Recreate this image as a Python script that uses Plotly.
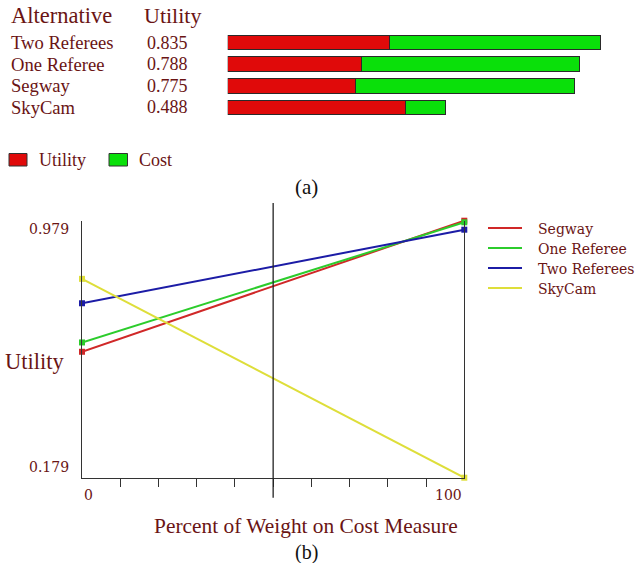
import plotly.graph_objects as go

# ---------------- data ----------------
alternatives = ["Two Referees", "One Referee", "Segway", "SkyCam"]
utility_labels = ["0.835", "0.788", "0.775", "0.488"]
utility_part = [0.361, 0.300, 0.285, 0.398]   # red segment
cost_part = [0.474, 0.488, 0.490, 0.090]      # green segment

weight_pct = [0, 100]
line_names = ["Segway", "One Referee", "Two Referees", "SkyCam"]
segway_vals = [0.571, 0.979]
one_referee_vals = [0.600, 0.974]
two_referees_vals = [0.722, 0.951]
skycam_vals = [0.798, 0.179]
y_tick_vals = [0.179, 0.979]
x_tick_labels = ["0", "100"]
minor_ticks = [10, 20, 30, 40, 50, 60, 70, 80, 90]
current_weight = 50

# ---------------- styles ----------------
W, H = 640, 563
TXT = "#6a1414"
SERIF = "Liberation Serif"
DSERIF = "DejaVu Serif"
BAR_RED = "#e00a0a"
BAR_GREEN = "#0ae00a"
line_colors = ["#d02828", "#2ccc2c", "#1c1ca6", "#dede3a"]
AX = "#333333"


def px_x(p):
    return p / W


def px_y(p):
    return 1 - p / H


fig = go.Figure()

# ---- (a) stacked bars ----
fig.add_trace(go.Bar(y=alternatives, x=utility_part, orientation="h", name="Utility",
                     marker=dict(color=BAR_RED, line=dict(color="#2a2a2a", width=1)),
                     xaxis="x", yaxis="y", showlegend=False, hoverinfo="x+y"))
fig.add_trace(go.Bar(y=alternatives, x=cost_part, orientation="h", name="Cost",
                     marker=dict(color=BAR_GREEN, line=dict(color="#2a2a2a", width=1)),
                     xaxis="x", yaxis="y", showlegend=False, hoverinfo="x+y"))

# ---- (b) sensitivity lines ----
for name, vals, col in zip(line_names,
                           [segway_vals, one_referee_vals, two_referees_vals, skycam_vals],
                           line_colors):
    fig.add_trace(go.Scatter(x=weight_pct, y=vals, mode="lines+markers", name=name,
                             line=dict(color=col, width=2),
                             marker=dict(symbol="square", size=6, color=col),
                             xaxis="x2", yaxis="y2", cliponaxis=False, showlegend=False))

annotations = []
shapes = []

# headers and row labels for (a)
annotations.append(dict(text="Alternative", x=px_x(9), y=px_y(16), xref="paper", yref="paper",
                        xanchor="left", yanchor="middle", showarrow=False,
                        font=dict(family=SERIF, size=22.5, color=TXT)))
annotations.append(dict(text="Utility", x=px_x(142), y=px_y(16), xref="paper", yref="paper",
                        xanchor="left", yanchor="middle", showarrow=False,
                        font=dict(family=SERIF, size=22, color=TXT)))
for alt, lab in zip(alternatives, utility_labels):
    annotations.append(dict(text=alt, x=px_x(9), y=alt, xref="paper", yref="y",
                            xanchor="left", yanchor="middle", showarrow=False,
                            font=dict(family=SERIF, size=18.6, color=TXT)))
    annotations.append(dict(text=lab, x=px_x(145), y=alt, xref="paper", yref="y",
                            xanchor="left", yanchor="middle", showarrow=False,
                            font=dict(family=SERIF, size=18, color=TXT)))

# legend for (a)
for (x0, x1, tx, label, col) in [(9, 27, 37, "Utility", BAR_RED), (109, 127.5, 136.5, "Cost", BAR_GREEN)]:
    shapes.append(dict(type="rect", xref="paper", yref="paper",
                       x0=px_x(x0), x1=px_x(x1), y0=px_y(166), y1=px_y(153.5),
                       fillcolor=col, line=dict(color="#333333", width=1)))
    annotations.append(dict(text=label, x=px_x(tx), y=px_y(159.5), xref="paper", yref="paper",
                            xanchor="left", yanchor="middle", showarrow=False,
                            font=dict(family=SERIF, size=18, color=TXT)))

annotations.append(dict(text="(a)", x=px_x(306), y=px_y(187), xref="paper", yref="paper",
                        xanchor="center", yanchor="middle", showarrow=False,
                        font=dict(family=SERIF, size=21, color="#111111")))

# (b) tick labels
annotations.append(dict(text=f"{y_tick_vals[1]:.3f}", x=px_x(71), y=y_tick_vals[1], yshift=-8,
                        xref="paper", yref="y2", xanchor="right", yanchor="middle", showarrow=False,
                        font=dict(family=DSERIF, size=14, color=TXT)))
annotations.append(dict(text=f"{y_tick_vals[0]:.3f}", x=px_x(71), y=y_tick_vals[0], yshift=11,
                        xref="paper", yref="y2", xanchor="right", yanchor="middle", showarrow=False,
                        font=dict(family=DSERIF, size=14, color=TXT)))
annotations.append(dict(text=x_tick_labels[0], x=weight_pct[0], y=px_y(494.5), xref="x2", yref="paper",
                        xanchor="left", yanchor="middle", showarrow=False,
                        font=dict(family=DSERIF, size=14, color=TXT)))
annotations.append(dict(text=x_tick_labels[1], x=weight_pct[1], y=px_y(494.5), xref="x2", yref="paper",
                        xanchor="right", yanchor="middle", showarrow=False,
                        font=dict(family=DSERIF, size=14, color=TXT)))

# (b) axis titles
annotations.append(dict(text="Utility", x=px_x(3), y=px_y(361), xref="paper", yref="paper",
                        xanchor="left", yanchor="middle", showarrow=False,
                        font=dict(family=SERIF, size=22.5, color=TXT)))
annotations.append(dict(text="Percent of Weight on Cost Measure", x=px_x(306), y=px_y(526),
                        xref="paper", yref="paper", xanchor="center", yanchor="middle", showarrow=False,
                        font=dict(family=SERIF, size=21.4, color=TXT)))
annotations.append(dict(text="(b)", x=px_x(306), y=px_y(552), xref="paper", yref="paper",
                        xanchor="center", yanchor="middle", showarrow=False,
                        font=dict(family=SERIF, size=20, color="#111111")))

# legend for (b)
for i, (name, col) in enumerate(zip(line_names, line_colors)):
    yy = 228 + 20 * i
    shapes.append(dict(type="line", xref="paper", yref="paper",
                       x0=px_x(488), x1=px_x(522), y0=px_y(yy), y1=px_y(yy),
                       line=dict(color=col, width=2)))
    annotations.append(dict(text=name, x=px_x(536), y=px_y(yy + 1), xref="paper", yref="paper",
                            xanchor="left", yanchor="middle", showarrow=False,
                            font=dict(family=DSERIF, size=14, color=TXT)))

# current weight line
shapes.append(dict(type="line", xref="x2", yref="paper", x0=current_weight, x1=current_weight,
                   y0=px_y(497.7), y1=px_y(203), line=dict(color="#222222", width=1.3)))

fig.update_layout(
    width=W, height=H,
    margin=dict(l=0, r=0, t=0, b=0),
    paper_bgcolor="white", plot_bgcolor="white",
    barmode="stack", bargap=0.31,
    showlegend=False,
    xaxis=dict(domain=[px_x(227.7), px_x(630)], range=[0, (630 - 227.7) / 447],
               visible=False, fixedrange=True),
    yaxis=dict(domain=[px_y(118.3), px_y(31.7)], range=[3.5, -0.5],
               categoryorder="array", categoryarray=alternatives,
               visible=False, fixedrange=True),
    xaxis2=dict(domain=[px_x(82), px_x(464.3)], range=[0, 100], anchor="y2",
                showline=True, linecolor=AX, linewidth=1.3,
                tickmode="array", tickvals=minor_ticks, ticks="outside", ticklen=8,
                tickcolor=AX, tickwidth=1.3, showticklabels=False,
                showgrid=False, zeroline=False),
    xaxis3=dict(overlaying="x2", range=[0, 100], anchor="y2",
                showline=False, tickmode="array", tickvals=minor_ticks,
                ticks="inside", ticklen=7, tickcolor=AX, tickwidth=1.3,
                showticklabels=False, showgrid=False, zeroline=False),
    yaxis2=dict(domain=[px_y(477.7), px_y(220.7)], range=[y_tick_vals[0], y_tick_vals[1]],
                anchor="x2", showline=True, mirror=True, linecolor=AX, linewidth=1.3,
                ticks="", showticklabels=False, showgrid=False, zeroline=False),
    annotations=annotations,
    shapes=shapes,
)

fig.write_html("out.html",
               config={"displayModeBar": False},
               post_script="document.body.style.margin='0';document.body.style.padding='0';")
